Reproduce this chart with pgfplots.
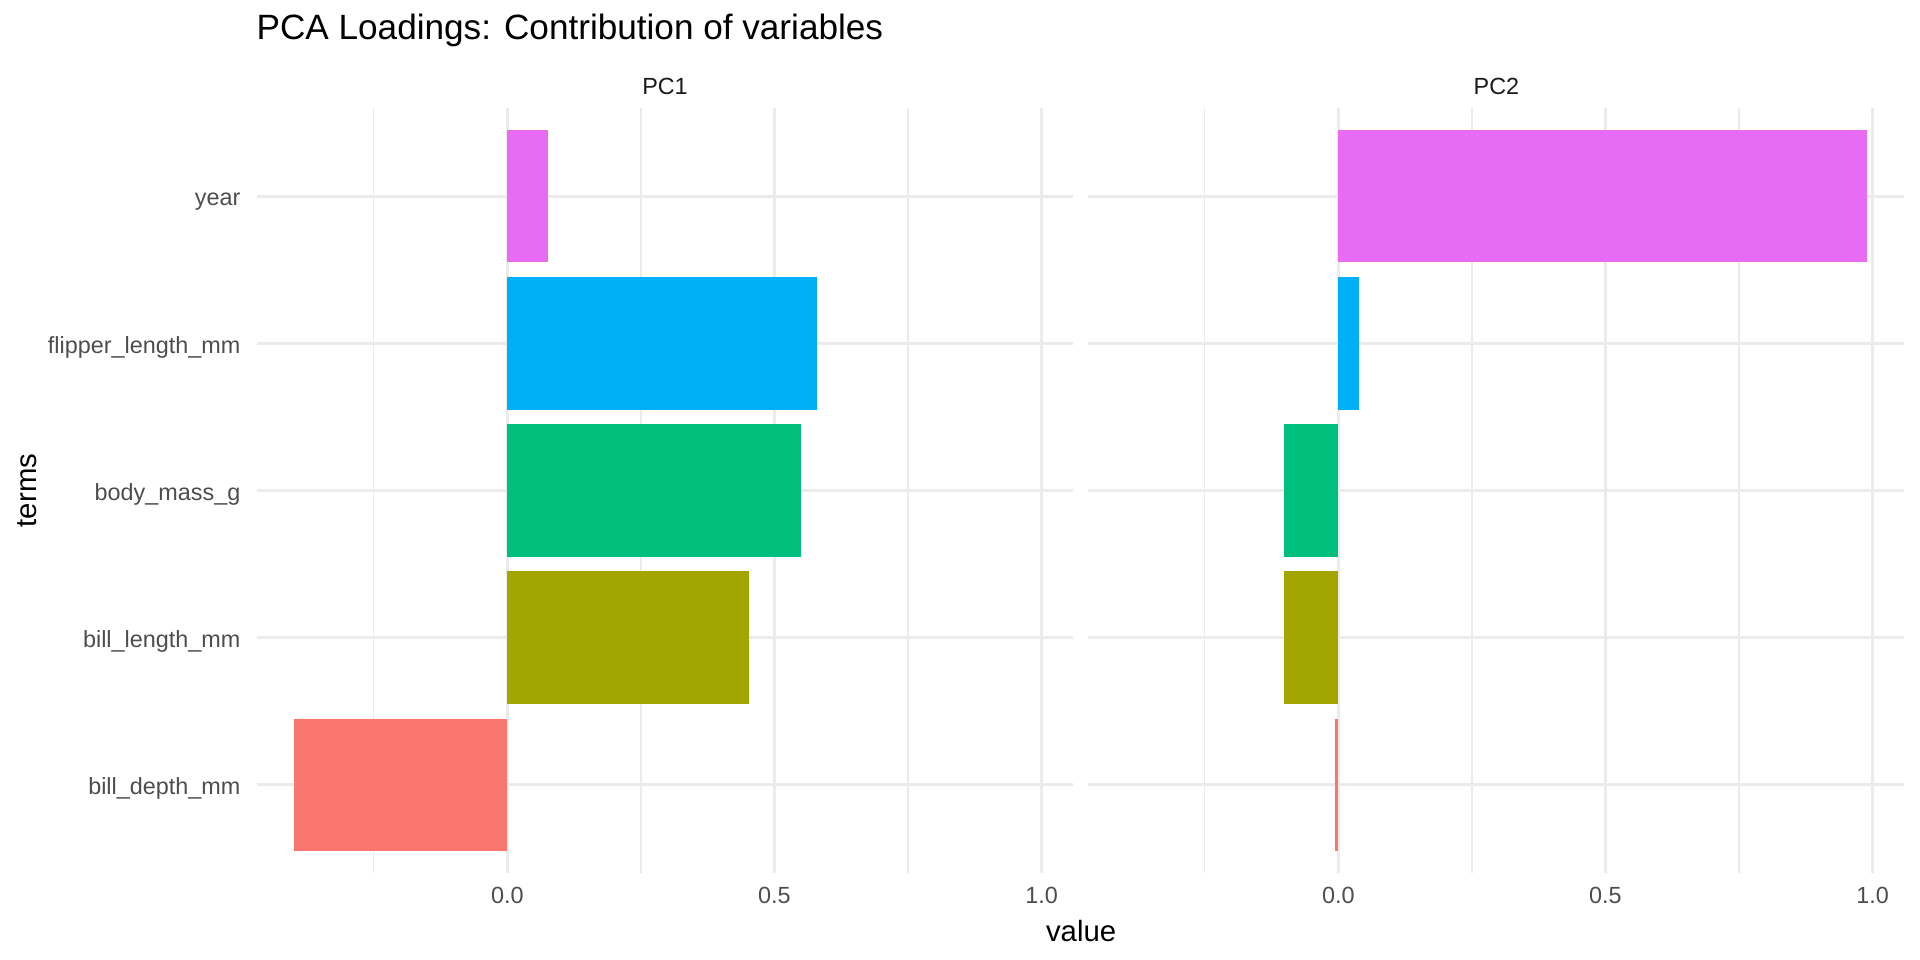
\documentclass[border=0pt]{standalone}
\usepackage{pgfplots}
\pgfplotsset{compat=1.18}
\usepackage{fontspec}
\setmainfont{Liberation Sans}

\definecolor{cdepth}{HTML}{F8766D}
\definecolor{clength}{HTML}{A3A500}
\definecolor{cmass}{HTML}{00BF7D}
\definecolor{cflipper}{HTML}{00B0F6}
\definecolor{cyear}{HTML}{E76BF3}
\definecolor{gridc}{HTML}{EBEBEB}
\definecolor{axtext}{HTML}{4D4D4D}
\definecolor{striptext}{HTML}{1A1A1A}

\pgfplotsset{
  pcapanel/.style={
    anchor=south west,
    scale only axis,
    width=293.9bp, height=275.4bp,
    xmin=-0.4685, xmax=1.0595,
    ymin=0.4, ymax=5.6,
    xbar, bar width=0.9, bar shift=0pt,
    xtick={0,0.5,1}, xticklabels={0.0,0.5,1.0},
    minor xtick={-0.25,0.25,0.75},
    ytick={1,2,3,4,5},
    xmajorgrids=true, xminorgrids=true, ymajorgrids=true,
    major grid style={color=gridc, line width=1.0bp},
    minor grid style={color=gridc, line width=0.5bp},
    axis line style={draw=none},
    major tick length=0pt, minor tick length=0pt,
    tick label style={font=\fontsize{8.45}{10}\selectfont, text=axtext},
    xticklabel style={anchor=north, inner sep=0pt, yshift=-5bp},
    yticklabel style={anchor=base east, inner sep=0pt, xshift=-5.8bp, yshift=-3.5bp},
  },
  pcabar/.style={fill=#1, draw=none, bar shift=0pt},
}

\begin{document}
\begin{tikzpicture}
\path[use as bounding box] (0,0) rectangle (691.2bp,345.6bp);

% PC1
\begin{axis}[pcapanel, at={(92.52bp,31.32bp)},
    yticklabels={bill\_depth\_mm, bill\_length\_mm, body\_mass\_g, flipper\_length\_mm, year}]
\addplot[pcabar=cdepth]    coordinates {(-0.399,1)};
\addplot[pcabar=clength]   coordinates {(0.452,2)};
\addplot[pcabar=cmass]     coordinates {(0.549,3)};
\addplot[pcabar=cflipper]  coordinates {(0.579,4)};
\addplot[pcabar=cyear]     coordinates {(0.077,5)};
\end{axis}

% PC2
\begin{axis}[pcapanel, at={(391.68bp,31.32bp)}, yticklabels={}]
\addplot[pcabar=cdepth]    coordinates {(-0.007,1)};
\addplot[pcabar=clength]   coordinates {(-0.101,2)};
\addplot[pcabar=cmass]     coordinates {(-0.101,3)};
\addplot[pcabar=cflipper]  coordinates {(0.039,4)};
\addplot[pcabar=cyear]     coordinates {(0.990,5)};
\end{axis}

% strips, titles
\node[anchor=base, inner sep=0pt, text=striptext, font=\fontsize{8.45}{10}\selectfont] at (239.4bp,311.4bp) {PC1};
\node[anchor=base, inner sep=0pt, text=striptext, font=\fontsize{8.45}{10}\selectfont] at (538.7bp,311.4bp) {PC2};
\node[anchor=base west, inner sep=0pt, font=\fontsize{12.7}{15}\selectfont] at (92.2bp,331.2bp) {PCA Loadings: Contribution of variables};
\node[anchor=base, inner sep=0pt, font=\fontsize{10.6}{13}\selectfont] at (389.2bp,6.8bp) {value};
\node[anchor=base, inner sep=0pt, rotate=90, font=\fontsize{10.6}{13}\selectfont] at (13.3bp,169.0bp) {terms};
\end{tikzpicture}
\end{document}
